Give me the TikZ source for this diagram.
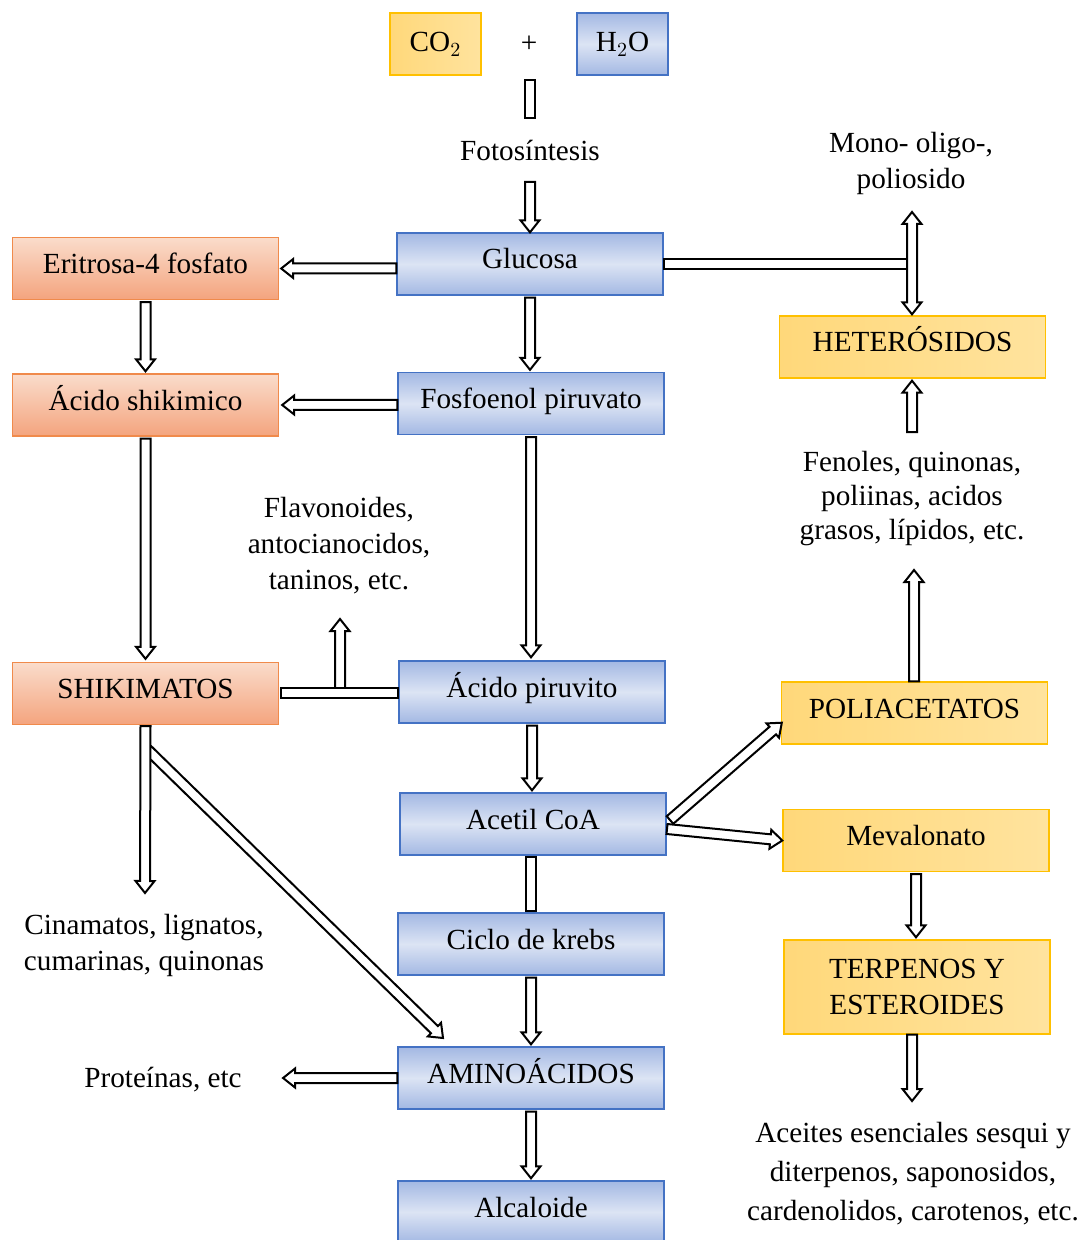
\documentclass[tikz,border=0pt]{standalone}
\usepackage{fontspec}
\setmainfont{Liberation Serif}
\usetikzlibrary{calc}
\definecolor{bbord}{HTML}{4472C4}
\definecolor{btop}{HTML}{A3B8E3}
\definecolor{bmid}{HTML}{DCE4F4}
\definecolor{obord}{HTML}{F08A4B}
\definecolor{otop}{HTML}{FADCCB}
\definecolor{obot}{HTML}{F4A47E}
\definecolor{ybord}{HTML}{FFC000}
\definecolor{ytop}{HTML}{FFD87A}
\definecolor{ybot}{HTML}{FFE39E}
\newcommand\fs{\fontsize{14.6}{18}\selectfont}
\tikzset{
  base/.style={minimum width=133pt, minimum height=31pt, inner sep=0pt, align=center, font=\fs, line width=0.7pt},
  one/.style={text height=10pt, text depth=5pt},
  bluebox/.style={base, one, draw=bbord, top color=btop, bottom color=btop, middle color=bmid},
  orangebox/.style={base, one, draw=obord, top color=otop, bottom color=obot},
  yellowbox/.style={base, one, draw=ybord, left color=ytop, right color=ybot},
  small/.style={minimum width=45.5pt, text height=12pt, text depth=4pt},
  txt/.style={align=center, inner sep=0pt},
  arr/.style={draw=black, fill=white, line width=1pt, line join=miter}
}
\newcommand\barrow[2]{%
  \coordinate (ba) at (#1); \coordinate (bb) at (#2);
  \coordinate (bh) at ($(bb)!6pt!(ba)$);
  \draw[arr] ($(ba)!2.5pt!90:(bb)$) -- ($(bh)!2.5pt!90:(bb)$) -- ($(bh)!4.75pt!90:(bb)$) -- (bb)
    -- ($(bh)!4.75pt!-90:(bb)$) -- ($(bh)!2.5pt!-90:(bb)$) -- ($(ba)!2.5pt!-90:(bb)$) -- cycle;}
\newcommand\bdarrow[2]{%
  \coordinate (ba) at (#1); \coordinate (bb) at (#2);
  \coordinate (bh) at ($(bb)!6pt!(ba)$);
  \coordinate (bg) at ($(ba)!6pt!(bb)$);
  \draw[arr] (ba) -- ($(bg)!4.75pt!-90:(ba)$) -- ($(bg)!2.5pt!-90:(ba)$) -- ($(bh)!2.5pt!90:(bb)$)
    -- ($(bh)!4.75pt!90:(bb)$) -- (bb) -- ($(bh)!4.75pt!-90:(bb)$) -- ($(bh)!2.5pt!-90:(bb)$)
    -- ($(bg)!2.5pt!90:(ba)$) -- ($(bg)!4.75pt!90:(ba)$) -- cycle;}
\newcommand\bbar[2]{%
  \coordinate (ba) at (#1); \coordinate (bb) at (#2);
  \draw[arr] ($(ba)!2.5pt!90:(bb)$) -- ($(bb)!2.5pt!-90:(ba)$) -- ($(bb)!2.5pt!90:(ba)$) -- ($(ba)!2.5pt!-90:(bb)$) -- cycle;}
\begin{document}
\begin{tikzpicture}[x=0.5pt, y=-0.5pt, font=\fs]
\clip (0,0) rectangle (1082,1240);
\fill[white] (0,0) rectangle (1082,1240);
% top
\node[yellowbox, small] (co2) at (435.5,44) {\(\mathrm{CO}_2\)};
\node[txt] (plus) at (529,44) {+};
\node[bluebox, small] (h2o) at (622.5,44) {\(\mathrm{H}_2\mathrm{O}\)};
\node[txt] (foto) at (530,150) {Fotosíntesis};
% center column
\node[bluebox] (glu) at (530,264) {Glucosa};
\node[bluebox] (fos) at (531,403.5) {Fosfoenol piruvato};
\node[bluebox] (piru) at (532,692) {Ácido piruvito};
\node[bluebox] (acet) at (533,824) {Acetil CoA};
\node[bluebox] (ciclo) at (531,944) {Ciclo de krebs};
\node[bluebox] (amino) at (531,1078) {AMINOÁCIDOS};
\node[bluebox] (alc) at (531,1212) {Alcaloide};
% left column
\node[orangebox] (eri) at (145.5,268.5) {Eritrosa-4 fosfato};
\node[orangebox] (acs) at (145.5,405) {Ácido shikimico};
\node[orangebox] (shk) at (145.5,693.5) {SHIKIMATOS};
\node[txt, font=\fontsize{14.6}{18}\selectfont] (flav) at (339,546) {Flavonoides,\\antocianocidos,\\taninos, etc.};
\node[txt, font=\fontsize{14.6}{18}\selectfont] (cin) at (144,945) {Cinamatos, lignatos,\\cumarinas, quinonas};
\node[txt] (prot) at (163,1080) {Proteínas, etc};
% right column
\node[txt, font=\fontsize{14.6}{18}\selectfont] (mono) at (911,163) {Mono- oligo-,\\poliosido};
\node[yellowbox] (het) at (912.5,347) {HETERÓSIDOS};
\node[txt, font=\fontsize{14.6}{17}\selectfont] (fen) at (912,499) {Fenoles, quinonas,\\poliinas, acidos\\grasos, lípidos, etc.};
\node[yellowbox] (pol) at (914.5,713) {POLIACETATOS};
\node[yellowbox] (mev) at (916,840.5) {Mevalonato};
\node[base, draw=ybord, left color=ytop, right color=ybot, minimum height=47pt, font=\fontsize{14.6}{18}\selectfont] (terp) at (917,987) {TERPENOS Y\\ESTEROIDES};
\node[txt, font=\fontsize{14.6}{19.5}\selectfont] (ace) at (913,1174) {Aceites esenciales sesqui y\\diterpenos, saponosidos,\\cardenolidos, carotenos, etc.};
% connectors
\coordinate (b1) at (530,80);
\coordinate (b2) at (530,118);
\bbar{b1}{b2}
\coordinate (f1) at (530,182);
\barrow{f1}{glu.north}
\barrow{glu.west |- eri.east}{$(eri.east)+(2,0)$}
\barrow{$(eri.south)+(0,2)$}{$(acs.north)+(0,-2)$}
\barrow{$(glu.south)+(0,2)$}{$(glu.south |- fos.north)+(0,-2)$}
\barrow{fos.west |- acs.east}{$(acs.east)+(3,0)$}
\barrow{$(acs.south)+(0,2)$}{$(shk.north)+(0,-3)$}
\barrow{$(fos.south)+(0,2)$}{$(fos.south |- piru.north)+(0,-3)$}
\coordinate (up1) at (340,692);
\coordinate (up2) at (340,619);
\barrow{up1}{up2}
\bbar{$(shk.east)+(2,-1)$}{$(piru.west |- shk.east)+(0,-1)$}
\barrow{$(piru.south)+(0,2)$}{$(piru.south |- acet.north)+(0,-2)$}
\bbar{$(acet.south)+(-2,1)$}{$(acet.south |- ciclo.north)+(-2,-1)$}
\barrow{$(ciclo.south)+(0,2)$}{$(ciclo.south |- amino.north)+(0,-2)$}
\barrow{amino.west}{$(prot.east |- amino.west)+(41,0)$}
\barrow{$(amino.south)+(0,2)$}{$(amino.south |- alc.north)+(0,-2)$}
\coordinate (d1) at (148,750);
\coordinate (d2) at (443,1038);
\barrow{d1}{d2}
\coordinate (c1) at (145,893);
\barrow{$(shk.south)+(0,1)$}{c1}
% right connectors
\coordinate (t1) at (912,264);
\bbar{glu.east |- t1}{t1}
\coordinate (m1) at (912,212);
\bdarrow{m1}{$(het.north -| m1)+(0,-1)$}
\coordinate (fe1) at (912,432);
\barrow{fe1}{$(het.south -| fe1)+(0,2)$}
\coordinate (fe2) at (914,570);
\barrow{pol.north -| fe2}{fe2}
\coordinate (a1) at (670,820);
\barrow{a1}{$(pol.south west)+(1,-22)$}
\coordinate (a2) at (667,829);
\barrow{a2}{$(mev.west)+(0,0)$}
\barrow{$(mev.south)+(0,2)$}{$(mev.south |- terp.north)+(0,-2)$}
\coordinate (te1) at (912,1101);
\barrow{terp.south -| te1}{te1}
\end{tikzpicture}
\end{document}
